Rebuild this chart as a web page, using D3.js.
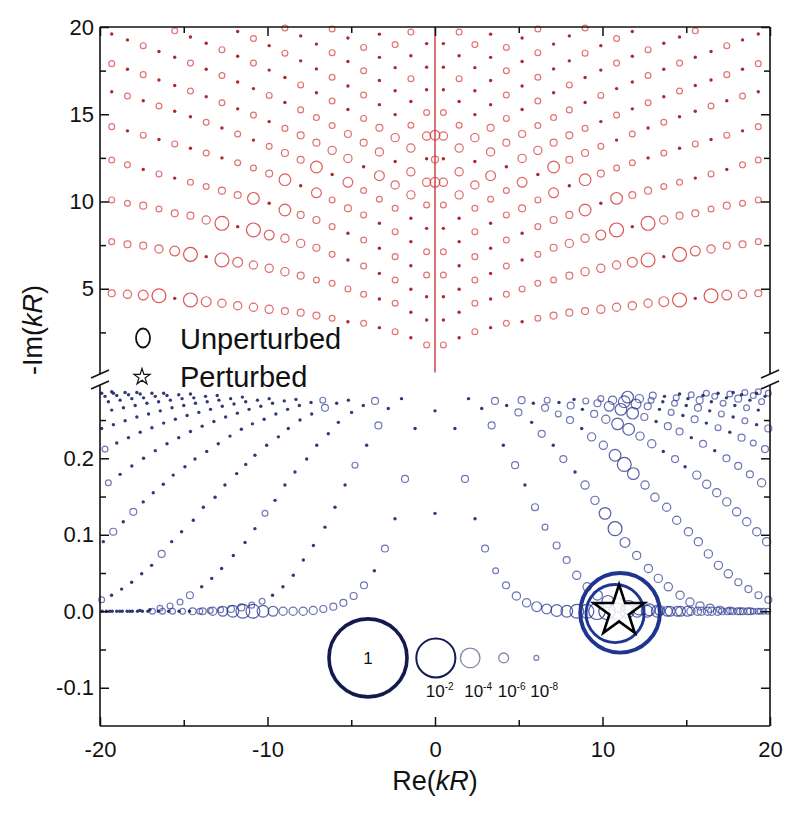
<!DOCTYPE html>
<meta charset="utf-8">
<head>
    <title>Poles in the complex kR plane</title>
    <script type="text/javascript" src="https://d3js.org/d3.v7.min.js"></script>
    <style>
        body { margin: 0; background: #fff; }
        text { font-family: "Liberation Sans", Arial, Helvetica, sans-serif; fill: #111; }
    </style>
</head>
<body>
    <div id="chart"></div>

    <script>
        // ---- upper panel (red lattice), right half; the left half is its mirror image
        var upperRe = [0.50, 1.44, 2.38, 3.32, 4.26, 5.20, 6.14, 7.08, 8.02, 8.96, 9.90,
                       10.84, 11.78, 12.72, 13.66, 14.60, 15.54, 16.48, 17.42, 18.36, 19.30];
        var upperIm = [
            [1.78, 2.19, 2.54, 2.77, 3.02, 3.11, 3.31, 3.46, 3.63, 3.72, 3.82, 3.94, 4.03, 4.17, 4.26, 4.36, 4.45, 4.60, 4.64, 4.68, 4.74],
            [3.21, 3.65, 4.17, 4.41, 4.68, 4.99, 5.31, 5.50, 5.75, 5.98, 6.17, 6.36, 6.52, 6.65, 6.84, 6.97, 7.16, 7.28, 7.47, 7.55, 7.70],
            [4.54, 4.97, 5.50, 5.88, 6.30, 6.65, 6.97, 7.35, 7.60, 7.89, 8.08, 8.37, 8.56, 8.75, 8.94, 9.19, 9.32, 9.57, 9.76, 9.90, 10.09],
            [5.79, 6.32, 6.84, 7.32, 7.79, 8.18, 8.56, 8.94, 9.23, 9.51, 9.90, 10.18, 10.37, 10.62, 10.86, 11.10, 11.34, 11.58, 11.84, 12.10, 12.38],
            [7.12, 7.70, 8.27, 8.75, 9.23, 9.61, 10.09, 10.50, 10.90, 11.25, 11.60, 11.92, 12.22, 12.50, 12.78, 13.05, 13.30, 13.55, 13.80, 14.05, 14.29],
            [8.46, 9.04, 9.61, 10.13, 10.63, 11.10, 11.55, 11.98, 12.39, 12.78, 13.16, 13.52, 13.87, 14.21, 14.54, 14.86, 15.17, 15.47, 15.77, 16.04, 16.29],
            [9.80, 10.38, 10.95, 11.48, 11.99, 12.47, 12.93, 13.37, 13.79, 14.19, 14.58, 14.95, 15.31, 15.66, 16.00, 16.33, 16.65, 16.96, 17.27, 17.58, 17.90],
            [11.10, 11.70, 12.29, 12.84, 13.37, 13.87, 14.35, 14.81, 15.25, 15.67, 16.08, 16.47, 16.85, 17.22, 17.58, 17.93, 18.27, 18.60, 18.93, 19.26, 19.60],
            [12.45, 13.06, 13.66, 14.22, 14.76, 15.27, 15.76, 16.23, 16.68, 17.11, 17.53, 17.93, 18.32, 18.70, 19.07, 19.43, 19.78],
            [13.75, 14.37, 14.98, 15.55, 16.10, 16.62, 17.12, 17.60, 18.06, 18.50, 18.93, 19.34, 19.74],
            [15.10, 15.73, 16.35, 16.93, 17.49, 18.02, 18.53, 19.02, 19.49, 19.94],
            [16.40, 17.04, 17.67, 18.26, 18.83, 19.37, 19.89],
            [17.70, 18.35, 18.99, 19.59],
            [19.05, 19.71]
        ];
        // marker size codes, one digit per column
        var upperSize = [
            "101010122233334606432",
            "001011112333460643221",
            "001010123346063221211",
            "101010122505221101011",
            "101012140521101010101",
            "001114052210101001010",
            "133403322101010100101",
            "330322111010010100100",
            "03321010100101001",
            "3100101001010",
            "1000101001",
            "0100101",
            "0010",
            "01"
        ];
        // points on the imaginary axis (Im, size code)
        var axisIm = [11.1, 12.4, 13.8];
        var axisSize = "424";

        // ---- lower panel (blue curves), right half; positions mirror on the left
        var lowerRe = [
            [1.19, 1.79, 2.39, 2.99, 3.62, 4.24, 4.86, 5.47, 6.07, 6.67, 7.27, 7.87, 8.47, 9.07, 9.67, 10.27, 10.87, 11.47, 12.07, 12.67, 13.27, 13.87, 14.47, 15.07, 15.67, 16.27, 16.87, 17.47, 18.07, 18.67, 19.27, 19.87],
            [2.00, 2.79, 3.38, 4.08, 4.78, 5.37, 5.97, 6.57, 7.26, 7.86, 8.46, 9.08, 9.70, 10.32, 10.94, 11.56, 12.18, 12.80, 13.42, 14.04, 14.66, 15.28, 15.90, 16.52, 17.14, 17.76, 18.38, 19.00, 19.62],
            [3.58, 4.28, 4.98, 5.77, 6.37, 7.06, 7.66, 8.36, 8.96, 9.55, 10.15, 10.75, 11.34, 12.04, 12.74, 13.33, 13.93, 14.63, 15.22, 15.82, 16.42, 17.02, 17.62, 18.22, 18.82, 19.42],
            [5.17, 5.87, 6.57, 7.36, 8.06, 8.76, 9.35, 10.05, 10.75, 11.30, 11.84, 12.54, 13.13, 13.83, 14.43, 15.13, 15.72, 16.32, 16.92, 17.51, 18.11, 18.71, 19.31, 19.90],
            [6.70, 7.40, 8.10, 8.80, 9.50, 10.20, 10.90, 11.56, 12.24, 12.94, 13.63, 14.33, 14.93, 15.63, 16.22, 16.82, 17.42, 18.01, 18.61, 19.21, 19.80],
            [8.30, 9.00, 9.70, 10.40, 11.10, 11.80, 12.50, 13.20, 13.90, 14.60, 15.30, 16.00, 16.70, 17.40, 18.10, 18.80, 19.50],
            [9.90, 10.60, 11.30, 12.00, 12.70, 13.40, 14.10, 14.80, 15.50, 16.20, 16.90, 17.60, 18.30, 19.00, 19.70],
            [11.50, 12.20, 12.90, 13.60, 14.30, 15.00, 15.70, 16.40, 17.10, 17.80, 18.50, 19.20, 19.90],
            [13.00, 13.70, 14.40, 15.10, 15.80, 16.50, 17.20, 17.90, 18.60, 19.30],
            [14.60, 15.30, 16.00, 16.70, 17.40, 18.10, 18.80, 19.50],
            [16.20, 16.90, 17.60, 18.30, 19.00, 19.70],
            [17.80, 18.50, 19.20, 19.90],
            [19.30]
        ];
        var lowerIm = [
            [0.239, 0.173, 0.121, 0.082, 0.053, 0.034, 0.020, 0.011, 0.006, 0.003, 0.001, 0, 0, 0, 0, 0, 0, 0, 0, 0, 0, 0, 0, 0, 0, 0, 0, 0, 0, 0, 0, 0],
            [0.278, 0.265, 0.243, 0.217, 0.191, 0.165, 0.136, 0.110, 0.086, 0.067, 0.047, 0.032, 0.021, 0.013, 0.008, 0.005, 0.003, 0.002, 0.001, 0, 0, 0, 0, 0, 0, 0, 0, 0, 0],
            [0.275, 0.269, 0.260, 0.247, 0.232, 0.217, 0.199, 0.182, 0.165, 0.145, 0.128, 0.108, 0.090, 0.073, 0.056, 0.043, 0.032, 0.021, 0.012, 0.007, 0.004, 0.002, 0.001, 0, 0, 0],
            [0.276, 0.272, 0.266, 0.258, 0.250, 0.239, 0.228, 0.217, 0.204, 0.192, 0.180, 0.165, 0.149, 0.136, 0.119, 0.104, 0.091, 0.075, 0.060, 0.049, 0.038, 0.029, 0.021, 0.015],
            [0.276, 0.273, 0.269, 0.264, 0.258, 0.251, 0.245, 0.238, 0.229, 0.219, 0.209, 0.199, 0.189, 0.178, 0.166, 0.155, 0.143, 0.130, 0.117, 0.104, 0.091],
            [0.277, 0.275, 0.272, 0.268, 0.264, 0.259, 0.254, 0.248, 0.242, 0.235, 0.227, 0.219, 0.210, 0.200, 0.190, 0.179, 0.168],
            [0.278, 0.276, 0.274, 0.271, 0.268, 0.264, 0.260, 0.256, 0.251, 0.246, 0.240, 0.234, 0.227, 0.220, 0.212],
            [0.280, 0.278, 0.276, 0.274, 0.272, 0.269, 0.266, 0.262, 0.258, 0.254, 0.249, 0.244, 0.239],
            [0.282, 0.281, 0.279, 0.278, 0.276, 0.274, 0.272, 0.269, 0.266, 0.263],
            [0.284, 0.283, 0.282, 0.281, 0.279, 0.278, 0.276, 0.274],
            [0.285, 0.285, 0.284, 0.283, 0.282, 0.281],
            [0.286, 0.286, 0.285, 0.285],
            [0.287]
        ];
        var lowerSizeRight = [
            "02021233445566777655544433322211",
            "00202021223345665544433322211",
            "20202020335643333333322221",
            "202120335653333333332222",
            "102023553302033333333",
            "01245520220202223",
            "135420102010212",
            "5310102010102",
            "2010201010",
            "01010201",
            "101010",
            "0101",
            "1"
        ];
        var lowerSizeLeft = [
            "02020222223333456654322111100000",
            "00201000000001122111000000000",
            "20000000001000000211100000",
            "002000000000000002000001",
            "100000000000000002020",
            "00000000000000001",
            "000000000000001",
            "0000000000000",
            "0000000000",
            "00000000",
            "000000",
            "0000",
            "0"
        ];
        var lowerAxisIm = [0.262, 0.128];

        // resonant unperturbed poles (Re, Im, weight) and the perturbed pole
        var resonant = [[11.05, -0.002, 1.15], [10.75, -0.003, 0.14]];
        var perturbed = [[10.99, 0.0]];

        // size legend
        var legendWeights = [1, 1e-2, 1e-4, 1e-6, 1e-8];
        var legendExp = ["", "-2", "-4", "-6", "-8"];
        var legendRe = [-4.0, 0.05, 2.1, 4.1, 6.05];
        var legendIm = -0.061;

        // size code -> log10 of the weight
        var sizeExp = [-9, -7.5, -7, -6.5, -6, -5.5, -5, -4.5, -4, -3.5];

        var width = 800, height = 821;
        var svg = d3.select("#chart").append("svg")
            .attr("width", width)
            .attr("height", height);

        var x = d3.scaleLinear().domain([-20, 20]).range([100, 770]);
        var yUp = d3.scaleLinear().domain([0, 20]).range([376, 27]);
        var yLow = d3.scaleLinear().domain([-0.15, 0.30]).range([726, 381.8]);
        var rad = d3.scalePow().exponent(0.15).domain([0, 1]).range([0, 39]);

        function weight(code) {
            return Math.pow(10, sizeExp[+code || 0]);
        }

        // collect markers
        var up = [], low = [];
        upperIm.forEach(function(fam, k) {
            fam.forEach(function(im, j) {
                if (im > 20) return;
                var c = upperSize[k].charAt(j) || "0";
                up.push({re: upperRe[j], im: im, w: weight(c)});
                up.push({re: -upperRe[j], im: im, w: weight(c)});
            });
        });
        axisIm.forEach(function(im, i) {
            up.push({re: 0, im: im, w: weight(axisSize.charAt(i))});
        });

        lowerRe.forEach(function(curve, k) {
            curve.forEach(function(re, j) {
                var im = lowerIm[k][j];
                low.push({re: re, im: im, w: weight(lowerSizeRight[k].charAt(j) || "0")});
                low.push({re: -re, im: im, w: weight(lowerSizeLeft[k].charAt(j) || "0")});
            });
        });
        lowerAxisIm.forEach(function(im) {
            low.push({re: 0, im: im, w: weight("0")});
        });

        var plot = svg.append("g").attr("class", "markers");

        // vertical line on the imaginary axis (upper panel)
        plot.append("line")
            .attr("x1", x(0)).attr("x2", x(0))
            .attr("y1", yUp(0.2)).attr("y2", yUp(20))
            .attr("stroke", "#c62828")
            .attr("stroke-width", 1.3);

        function drawMarkers(data, y, ringColor, dotColor) {
            var rings = data.filter(function(d) { return rad(d.w) >= 2.2; });
            var dots = data.filter(function(d) { return rad(d.w) < 2.2; });
            plot.append("g").selectAll("circle")
                .data(rings.sort(function(a, b) { return b.w - a.w; }))
                .enter().append("circle")
                .attr("cx", function(d) { return x(d.re); })
                .attr("cy", function(d) { return y(d.im); })
                .attr("r", function(d) { return rad(d.w); })
                .attr("fill", "none")
                .attr("stroke", ringColor)
                .attr("stroke-width", function(d) { return Math.max(1.2, rad(d.w) * 0.09); })
                .attr("stroke-opacity", function(d) { return Math.min(1, 0.55 + rad(d.w) / 25); });
            plot.append("g").selectAll("circle")
                .data(dots)
                .enter().append("circle")
                .attr("cx", function(d) { return x(d.re); })
                .attr("cy", function(d) { return y(d.im); })
                .attr("r", 1.7)
                .attr("fill", dotColor)
                .attr("fill-opacity", 0.9);
        }

        drawMarkers(up, yUp, "#d42e2e", "#a51212");
        drawMarkers(low, yLow, "#2b3990", "#1b2468");

        // big resonant rings and the perturbed pole
        plot.append("g").selectAll("circle")
            .data(resonant)
            .enter().append("circle")
            .attr("cx", function(d) { return x(d[0]); })
            .attr("cy", function(d) { return yLow(d[1]); })
            .attr("r", function(d) { return rad(d[2]); })
            .attr("fill", "none")
            .attr("stroke", "#1f3590")
            .attr("stroke-width", function(d) { return rad(d[2]) * 0.1; });

        plot.append("g").selectAll("path")
            .data(perturbed)
            .enter().append("path")
            .attr("d", d3.symbol().type(d3.symbolStar).size(800))
            .attr("transform", function(d) { return "translate(" + x(d[0]) + "," + yLow(d[1]) + ")"; })
            .attr("fill", "#fff")
            .attr("fill-opacity", 0.85)
            .attr("stroke", "#000")
            .attr("stroke-width", 2.6);

        // ---- axes
        var axes = svg.append("g").attr("class", "axes");
        function styleAxis(g) {
            g.select(".domain").remove();
            g.selectAll("line").attr("stroke", "#111").attr("stroke-width", 1.5);
            g.selectAll("text").style("font-size", "22px").attr("fill", "#111");
        }
        function addAxis(axis, tx, ty) {
            axes.append("g").attr("transform", "translate(" + tx + "," + ty + ")").call(axis).call(styleAxis);
        }
        var fmtLow = function(d) { return d.toFixed(1); };
        var fmtInt = function(d) { return String(d); };

        addAxis(d3.axisLeft(yUp).tickValues([5, 10, 15, 20]).tickSizeInner(-9).tickSizeOuter(0).tickPadding(6).tickFormat(fmtInt), 100, 0);
        addAxis(d3.axisLeft(yUp).tickValues([2.5, 7.5, 12.5, 17.5]).tickSizeInner(-6).tickSizeOuter(0).tickFormat(""), 100, 0);
        addAxis(d3.axisLeft(yLow).tickValues([-0.1, 0, 0.1, 0.2]).tickSizeInner(-9).tickSizeOuter(0).tickPadding(6).tickFormat(fmtLow), 100, 0);
        addAxis(d3.axisLeft(yLow).tickValues([-0.05, 0.05, 0.15, 0.25]).tickSizeInner(-6).tickSizeOuter(0).tickFormat(""), 100, 0);

        addAxis(d3.axisRight(yUp).tickValues([5, 10, 15, 20]).tickSizeInner(-9).tickSizeOuter(0).tickFormat(""), 770, 0);
        addAxis(d3.axisRight(yUp).tickValues([2.5, 7.5, 12.5, 17.5]).tickSizeInner(-6).tickSizeOuter(0).tickFormat(""), 770, 0);
        addAxis(d3.axisRight(yLow).tickValues([-0.1, 0, 0.1, 0.2]).tickSizeInner(-9).tickSizeOuter(0).tickFormat(""), 770, 0);
        addAxis(d3.axisRight(yLow).tickValues([-0.05, 0.05, 0.15, 0.25]).tickSizeInner(-6).tickSizeOuter(0).tickFormat(""), 770, 0);

        addAxis(d3.axisBottom(x).tickValues([-20, -10, 0, 10, 20]).tickSizeInner(-9).tickSizeOuter(0).tickPadding(15).tickFormat(fmtInt), 0, 726);
        addAxis(d3.axisBottom(x).tickValues([-15, -5, 5, 15]).tickSizeInner(-6).tickSizeOuter(0).tickFormat(""), 0, 726);
        addAxis(d3.axisTop(x).tickValues([-20, -10, 0, 10, 20]).tickSizeInner(-9).tickSizeOuter(0).tickFormat(""), 0, 27);
        addAxis(d3.axisTop(x).tickValues([-15, -5, 5, 15]).tickSizeInner(-6).tickSizeOuter(0).tickFormat(""), 0, 27);

        // frame with axis breaks
        var frame = axes.append("g").attr("stroke", "#111").attr("stroke-width", 1.6).attr("fill", "none");
        frame.append("line").attr("x1", 100).attr("x2", 770).attr("y1", 27).attr("y2", 27);
        frame.append("line").attr("x1", 100).attr("x2", 770).attr("y1", 726).attr("y2", 726);
        [100, 770].forEach(function(xx) {
            frame.append("line").attr("x1", xx).attr("x2", xx).attr("y1", 27).attr("y2", 374);
            frame.append("line").attr("x1", xx).attr("x2", xx).attr("y1", 385).attr("y2", 726);
            [374, 385].forEach(function(yy) {
                frame.append("line")
                    .attr("x1", xx - 9).attr("y1", yy + 4)
                    .attr("x2", xx + 9).attr("y2", yy - 4);
            });
        });

        // axis titles
        var xt = svg.append("text")
            .attr("x", x(0)).attr("y", 790)
            .attr("text-anchor", "middle")
            .style("font-size", "27px");
        xt.append("tspan").text("Re(");
        xt.append("tspan").style("font-style", "italic").text("kR");
        xt.append("tspan").text(")");

        var yt = svg.append("text")
            .attr("transform", "translate(42,330) rotate(-90)")
            .attr("text-anchor", "middle")
            .style("font-size", "27px");
        yt.append("tspan").text("-Im(");
        yt.append("tspan").style("font-style", "italic").text("kR");
        yt.append("tspan").text(")");

        // marker legend
        var leg = svg.append("g");
        leg.append("ellipse").attr("cx", 143).attr("cy", 338).attr("rx", 7).attr("ry", 9.5)
            .attr("fill", "none").attr("stroke", "#111").attr("stroke-width", 1.8);
        leg.append("path").attr("d", d3.symbol().type(d3.symbolStar).size(80))
            .attr("transform", "translate(142,377)")
            .attr("fill", "none").attr("stroke", "#111").attr("stroke-width", 1.2);
        leg.append("text").attr("x", 180).attr("y", 349).style("font-size", "29px").text("Unperturbed");
        leg.append("text").attr("x", 180).attr("y", 387).style("font-size", "29px").text("Perturbed");

        // size legend
        var sl = svg.append("g");
        legendWeights.forEach(function(w, i) {
            var cx = x(legendRe[i]), cy = yLow(legendIm), rr = rad(w);
            if (rr < 2.2) {
                sl.append("circle").attr("cx", cx).attr("cy", cy).attr("r", 2).attr("fill", "#1a1a40");
            } else {
                sl.append("circle").attr("cx", cx).attr("cy", cy).attr("r", rr)
                    .attr("fill", "none")
                    .attr("stroke", i < 2 ? "#141a4f" : "#8088aa")
                    .attr("stroke-width", i == 0 ? 3.6 : (i == 1 ? 2 : 1.3));
            }
            if (i == 0) {
                sl.append("text").attr("x", cx).attr("y", cy + 6).attr("text-anchor", "middle")
                    .style("font-size", "17px").text("1");
            } else {
                var t = sl.append("text").attr("x", cx - 10 + (i == 1 ? 0 : 4)).attr("y", 697).style("font-size", "17px");
                t.append("tspan").text("10");
                t.append("tspan").attr("dy", -7).style("font-size", "10px").text(legendExp[i]);
            }
        });
    </script>
</body>
</html>
